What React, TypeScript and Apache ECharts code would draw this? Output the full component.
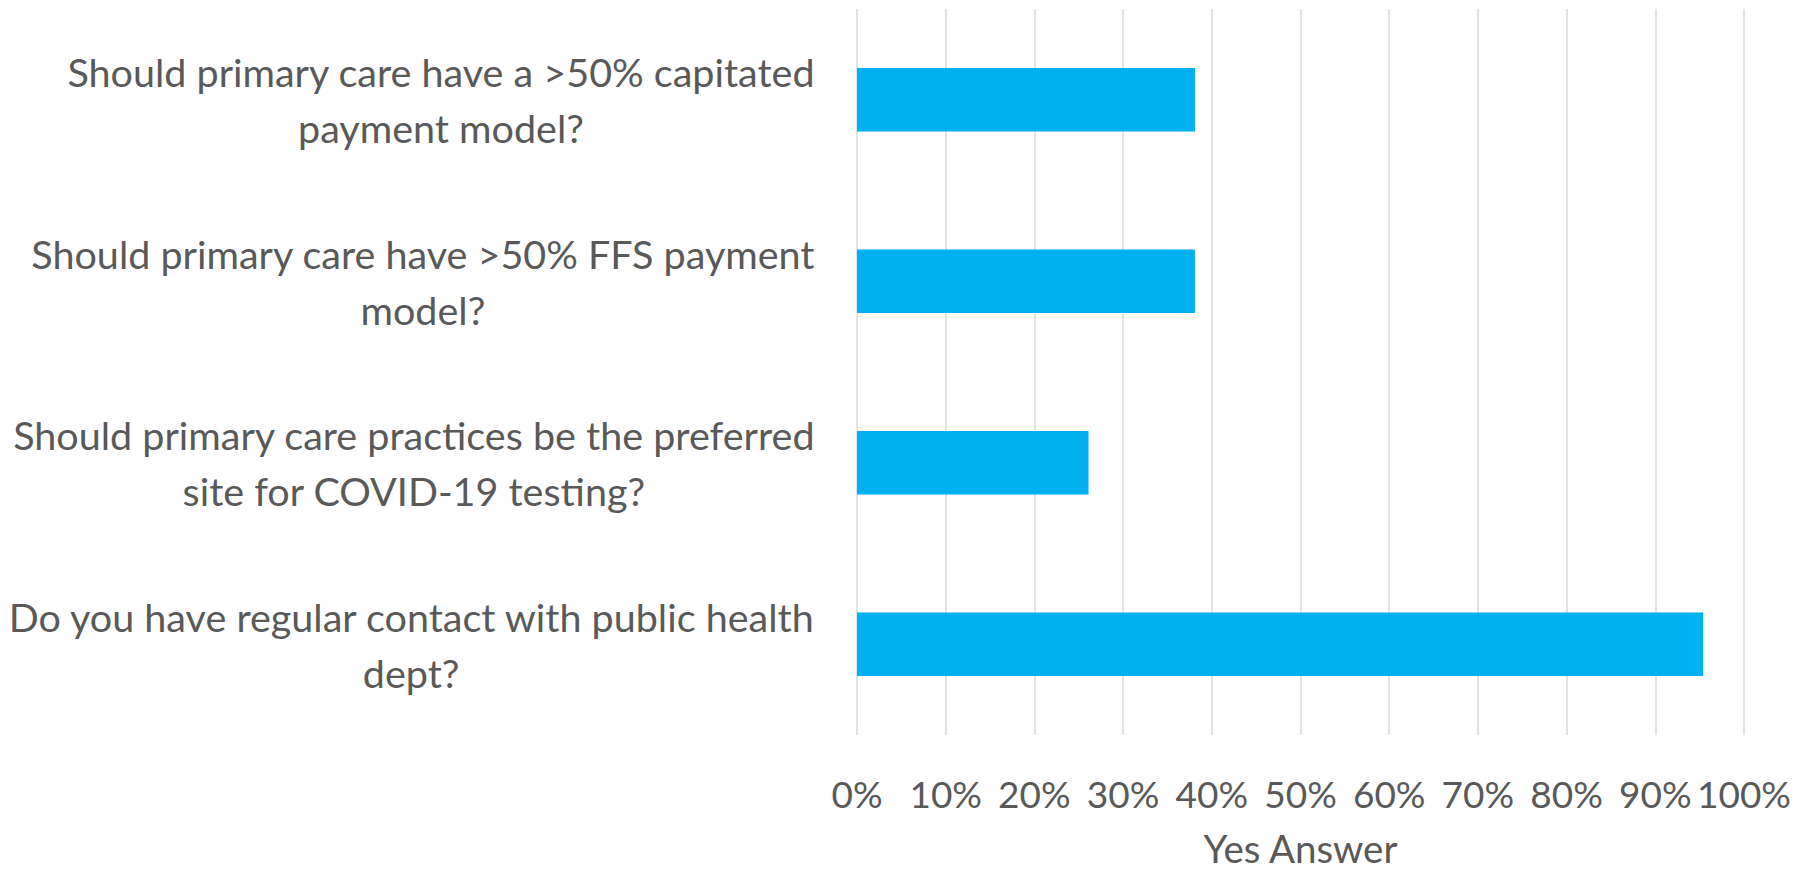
import React, { useEffect, useRef } from 'react';
import * as echarts from 'echarts';

const categories: string[] = [
  'Should primary care have a >50% capitated\npayment model?',
  'Should primary care have >50% FFS payment\nmodel?',
  'Should primary care practices be the preferred\nsite for COVID-19 testing?',
  'Do you have regular contact with public health\ndept?',
];
const yesValues: number[] = [38.1, 38.1, 26.1, 95.4];
const xMin = 0;
const xMax = 100;
const xInterval = 10;
const xAxisName = 'Yes Answer';

const FONT = 'Lato';
const TEXT_COLOR = '#595959';

export default function App() {
  const ref = useRef<HTMLDivElement>(null);
  useEffect(() => {
    document.body.style.margin = '0';
    if (!ref.current) return;
    const chart = echarts.init(ref.current, null, { renderer: 'svg' });
    chart.setOption({
      animation: false,
      backgroundColor: '#ffffff',
      grid: { left: 857, right: 68, top: 9, bottom: 135, outerBoundsMode: 'none', containLabel: false },
      xAxis: {
        type: 'value',
        min: xMin,
        max: xMax,
        interval: xInterval,
        name: xAxisName,
        nameLocation: 'middle',
        nameGap: 113,
        nameTextStyle: {
          color: TEXT_COLOR,
          fontSize: 38.5,
          fontFamily: FONT,
          verticalAlign: 'middle',
          lineHeight: 40,
        },
        axisLine: { show: false },
        axisTick: { show: false },
        axisLabel: {
          formatter: '{value}%',
          color: TEXT_COLOR,
          fontSize: 37,
          fontFamily: FONT,
          margin: 40,
          showMinLabel: true,
          showMaxLabel: true,
          hideOverlap: false,
        },
        splitLine: { show: true, lineStyle: { color: '#D9D9D9', width: 1.5 } },
      },
      yAxis: {
        type: 'category',
        inverse: true,
        data: categories,
        axisLine: { show: false },
        axisTick: { show: false },
        axisLabel: {
          margin: 42,
          align: 'right',
          formatter: (value: string) =>
            value.split('\n').map((l) => `{c|${l}}`).join('\n'),
          rich: {
            c: {
              align: 'center',
              color: TEXT_COLOR,
              fontSize: 39.5,
              fontFamily: FONT,
              lineHeight: 56,
            },
          },
        },
      },
      series: [
        {
          type: 'bar',
          data: yesValues,
          barWidth: '35%',
          itemStyle: { color: '#00B0F0' },
        },
      ],
    });
    return () => chart.dispose();
  }, []);
  return <div ref={ref} style={{ width: 1812, height: 870 }} />;
}
